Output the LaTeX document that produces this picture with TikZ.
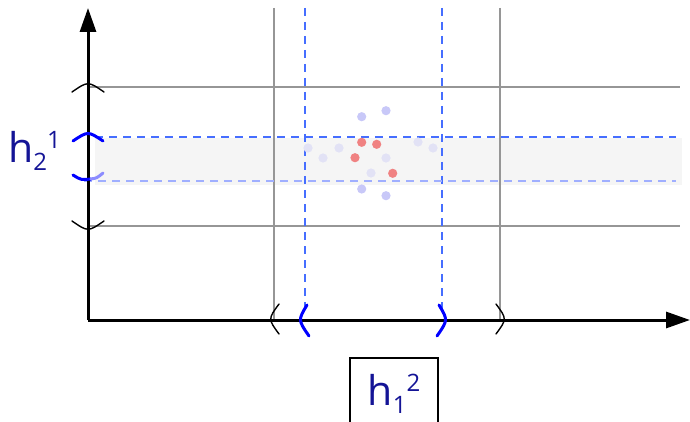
\documentclass[tikz,border=0pt]{standalone}
\usepackage{fontspec}
\setmainfont{Open Sans}
\usepackage{xcolor}
\usetikzlibrary{
  arrows.meta
}
\definecolor{lblnavy}{RGB}{20,20,150}
\definecolor{dashblue}{RGB}{70,110,255}
\definecolor{dashpale}{RGB}{160,175,255}
\definecolor{gridgray}{RGB}{150,150,150}
\definecolor{bandgray}{RGB}{245,245,245}
\definecolor{dotblue}{RGB}{200,200,248}
\definecolor{dotpale}{RGB}{226,226,245}
\definecolor{dotred}{RGB}{240,130,130}
\definecolor{brkpale}{RGB}{140,140,255}
\tikzset{
  axisline/.style={
    line width=3pt,
    -{Triangle[length=24pt,width=16pt]},
  },
  gridline/.style={
    draw=gridgray,
    line width=2pt,
  },
  cutline/.style={
    draw=dashblue,
    line width=1.5pt,
    dash pattern=on 8pt off 6pt,
  },
  cutpale/.style={
    cutline,
    draw=dashpale,
  },
  brk/.style={
    line width=1.4pt,
    line cap=round,
  },
  brkblue/.style={
    draw=blue,
    line width=3pt,
    line cap=round,
  },
  hlabel/.style={
    text=lblnavy,
    font=\fontsize{41}{43}\selectfont,
    inner sep=0pt,
  },
}
\newcommand{\hsubsup}[2]{h{\fontsize{24}{24}\selectfont\raisebox{-8pt}{#1}\raisebox{14pt}{#2}}}

\begin{document}
\begin{tikzpicture}[x=1pt, y=-1pt]
  \useasboundingbox (0,0) rectangle (690,422);

  % band of the second cut
  \fill[bandgray] (95,138) rectangle (682,185);

  % outer grid
  \draw[gridline] (274,8) -- (274,320);
  \draw[gridline] (500,8) -- (500,320);
  \draw[gridline] (88,87) -- (680,87);
  \draw[gridline] (88,226) -- (680,226);

  % inner cuts
  \draw[cutline] (305,8) -- (305,312);
  \draw[cutline] (442,8) -- (442,312);
  \draw[cutline] (95,137) -- (676,137);
  \draw[cutpale] (84,181) -- (676,181);

  % points
  \foreach \px/\py in {361.7/116.7, 386/110.7, 361.7/189, 386/195.7}
    \fill[dotblue] (\px,\py) circle (4.6);
  \foreach \px/\py in {308/148, 323/158, 339/148, 386/158, 371/173, 418/142, 433/148}
    \fill[dotpale] (\px,\py) circle (4.6);
  \foreach \px/\py in {361.7/142.3, 376.7/144.3, 355/157.7, 392.7/173.3}
    \fill[dotred] (\px,\py) circle (4.6);

  % axes
  \coordinate (origin) at (88,320);
  \coordinate (ytip) at (88,8);
  \coordinate (xtip) at (690,320);
  \draw[axisline] (origin) -- (ytip);
  \draw[axisline] (origin) -- (xtip);

  % brackets on the y axis
  \draw[brk] (72,92) .. controls (88,81) .. (104,92);
  \draw[brk] (72,221) .. controls (88,232) .. (104,221);
  \draw[brkblue] (73,141) .. controls (88,131) .. (103,141);
  \draw[brkblue] (73,175) .. controls (81,180) .. (91,179);
  \draw[brkblue, draw=brkpale] (91,179) .. controls (97,178) .. (103,173);

  % brackets on the x axis
  \draw[brk] (279,304) .. controls (268,319) .. (279,334);
  \draw[brkblue] (307,305) .. controls (298,320) .. (309,336);
  \draw[brkblue] (439,305) .. controls (448,320) .. (437,336);
  \draw[brk] (496,304) .. controls (507,319) .. (496,334);

  % labels
  \node[hlabel, anchor=west] (hy) at (8,151) {\hsubsup{2}{1}};
  \node[hlabel, draw=black, line width=2pt, minimum width=88pt,
        minimum height=72pt] (hx) at (394,394) {\hsubsup{1}{2}};
\end{tikzpicture}
\end{document}
